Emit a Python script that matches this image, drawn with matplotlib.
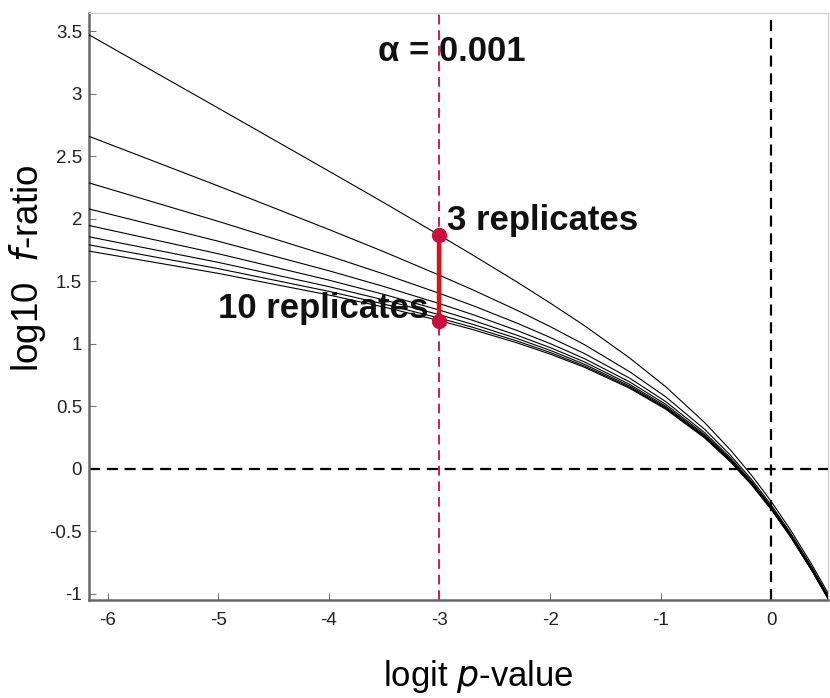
import matplotlib
matplotlib.use("Agg")
import matplotlib.pyplot as plt
from matplotlib.ticker import FuncFormatter

plt.rcParams['font.family'] = ['Liberation Sans', 'DejaVu Sans']
plt.rcParams['axes.unicode_minus'] = False

# logit p-value positions where the curves were read
logit_p = [-6.2, -5.0, -4.0, -3.5, -3.0, -2.698, -2.299, -1.996, -1.690,
           -1.279, -0.954, -0.602, -0.368, -0.176, 0.0, 0.176, 0.368, 0.550]

# log10 f-ratio for 3 .. 10 replicates
rep3 = [3.489, 2.887, 2.383, 2.129, 1.870, 1.711, 1.496, 1.326, 1.147,
        0.887, 0.658, 0.371, 0.151, -0.053, -0.260, -0.490, -0.766, -1.050]
rep4 = [2.672, 2.264, 1.916, 1.737, 1.550, 1.433, 1.270, 1.138, 0.995,
        0.777, 0.577, 0.317, 0.109, -0.086, -0.288, -0.514, -0.786, -1.069]
rep5 = [2.297, 1.981, 1.705, 1.559, 1.405, 1.307, 1.167, 1.051, 0.924,
        0.726, 0.539, 0.290, 0.089, -0.102, -0.302, -0.526, -0.797, -1.079]
rep6 = [2.087, 1.822, 1.586, 1.459, 1.323, 1.235, 1.108, 1.002, 0.883,
        0.696, 0.517, 0.275, 0.077, -0.112, -0.310, -0.533, -0.803, -1.084]
rep7 = [1.954, 1.722, 1.511, 1.396, 1.271, 1.189, 1.070, 0.970, 0.857,
        0.676, 0.502, 0.265, 0.069, -0.118, -0.315, -0.537, -0.808, -1.088]
rep8 = [1.863, 1.653, 1.459, 1.352, 1.234, 1.157, 1.044, 0.948, 0.838,
        0.663, 0.492, 0.257, 0.064, -0.123, -0.319, -0.541, -0.811, -1.091]
rep9 = [1.798, 1.603, 1.421, 1.319, 1.207, 1.133, 1.024, 0.931, 0.824,
        0.653, 0.484, 0.252, 0.060, -0.126, -0.322, -0.543, -0.813, -1.093]
rep10 = [1.748, 1.565, 1.392, 1.295, 1.187, 1.115, 1.009, 0.918, 0.814,
         0.645, 0.478, 0.248, 0.056, -0.129, -0.324, -0.545, -0.815, -1.095]
curves = [rep3, rep4, rep5, rep6, rep7, rep8, rep9, rep10]

alpha_logit = -3.0
highlight_y = [1.870, 1.187]  # 3 and 10 replicates at alpha = 0.001

x_ticks = [-6, -5, -4, -3, -2, -1, 0]
y_ticks = [-1, -0.5, 0, 0.5, 1, 1.5, 2, 2.5, 3, 3.5]

fig = plt.figure(figsize=(8.30, 6.98), dpi=100)
ax = fig.add_axes([0.1072, 0.1397, 0.8904, 0.8417])

for ys in curves:
    ax.plot(logit_p, ys, color='black', lw=0.8, zorder=3)

ax.axvline(0, color='black', lw=1.6, ls=(0, (5, 3)), zorder=2)
ax.axhline(0, color='black', lw=1.6, ls=(0, (5, 3)), zorder=2)
ax.axvline(alpha_logit, color='#d0185a', lw=1.4, ls=(0, (5, 3)), zorder=2)

ax.plot([alpha_logit, alpha_logit], highlight_y, color='#e01010', lw=3.2, zorder=4)
ax.plot([alpha_logit, alpha_logit], highlight_y, 'o', color='#c8103c',
        markersize=10, zorder=5)

ax.text(-2.887, 3.336, 'α = 0.001', fontsize=25, fontweight='bold',
        ha='center', va='center', color='#111111')
ax.text(-2.933, 1.984, '3 replicates', fontsize=25, fontweight='bold',
        ha='left', va='center', color='#111111')
ax.text(-3.104, 1.28, '10 replicates', fontsize=25, fontweight='bold',
        ha='right', va='center', color='#111111')

ax.set_xlim(-6.169, 0.513)
ax.set_ylim(-1.052, 3.648)
ax.set_xticks(x_ticks)
ax.set_yticks(y_ticks)
ax.xaxis.set_major_formatter(FuncFormatter(lambda v, p: '%g' % v))
ax.yaxis.set_major_formatter(FuncFormatter(lambda v, p: '%g' % v))
ax.tick_params(direction='in', length=5, width=0.8, color='#777777',
               labelsize=13.5, labelcolor='#222222')
ax.tick_params(axis='y', pad=5)
ax.tick_params(axis='x', pad=8)

# axis titles placed like the original figure
fig.text(478 / 830, 1 - 686 / 698, 'logit $\\it{p}$-value', fontsize=25,
         ha='center', va='baseline')
fig.text(27 / 830, 1 - 268 / 698, 'log10  $\\it{f}$-ratio', fontsize=26.5,
         ha='center', va='center', rotation=90)

for side in ['left', 'bottom']:
    ax.spines[side].set_color('#666666')
    ax.spines[side].set_linewidth(1.8)
for side in ['top', 'right']:
    ax.spines[side].set_color('#cccccc')
    ax.spines[side].set_linewidth(0.8)

fig.savefig('out.png', dpi=100)
